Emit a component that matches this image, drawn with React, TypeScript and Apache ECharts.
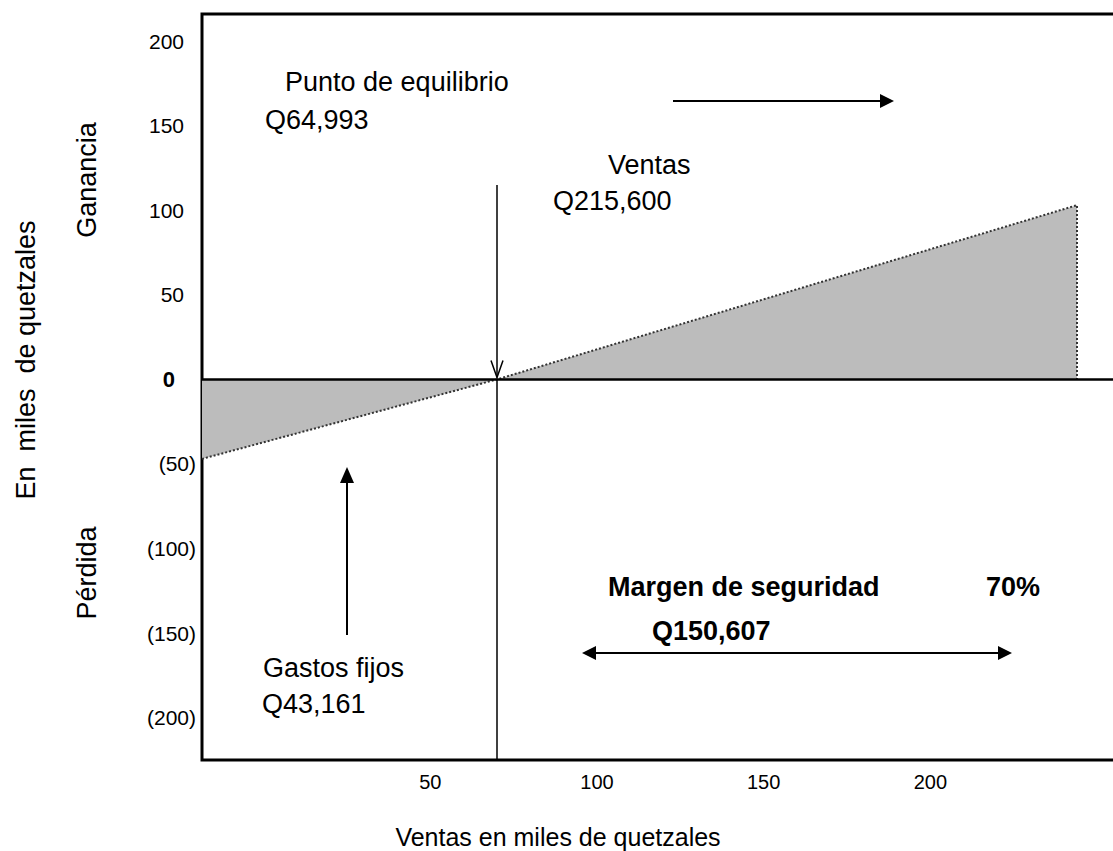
import React, { useEffect, useRef } from "react";
import * as echarts from "echarts";

// Ventas (miles de Q) – tick labels on the x axis
const salesTicks = [50, 100, 150, 200];
// Ganancia / pérdida (miles de Q) – tick labels on the y axis
const resultTicks = [-200, -150, -100, -50, 0, 50, 100, 150, 200];
// Profit/loss line as drawn in the picture (x = ventas, y = resultado)
const profitSales = [-18.5, 70, 244, 244];
const profitResult = [-47, 0, 103, 0];
// Break-even point as drawn
const breakEvenSales = 70;

const FONT = "Liberation Sans, Arial, sans-serif";

export default function App() {
  const ref = useRef<HTMLDivElement>(null);

  useEffect(() => {
    document.body.style.margin = "0";
    const chart = echarts.init(ref.current!, null, { renderer: "svg" });

    const profitData = profitSales.map((x, i) => [x, profitResult[i]]);

    chart.setOption({
      animation: false,
      backgroundColor: "#ffffff",
      grid: {
        left: 202,
        top: 14,
        width: 922,
        height: 746,
        outerBoundsMode: "none",
        containLabel: false,
        show: true,
        borderColor: "#000",
        borderWidth: 3,
      },
      xAxis: {
        type: "value",
        min: -18.5,
        max: 258.1,
        axisLine: { show: false },
        axisTick: { show: false },
        splitLine: { show: false },
        axisLabel: {
          customValues: salesTicks,
          fontSize: 20,
          color: "#000",
          fontFamily: FONT,
          margin: 12,
        },
      },
      yAxis: {
        type: "value",
        min: -225,
        max: 216,
        axisLine: { show: false },
        axisTick: { show: false },
        splitLine: { show: false },
        axisLabel: {
          customValues: resultTicks,
          margin: 4,
          fontFamily: FONT,
          color: "#000",
          formatter: (v: number) =>
            v === 0 ? "{z|0}" : v > 0 ? `{p|${v}}` : `{n|(${-v})}`,
          rich: {
            p: { fontSize: 21, fontFamily: FONT, color: "#000", padding: [0, 14, 0, 0] },
            n: { fontSize: 21, fontFamily: FONT, color: "#000", padding: [0, 2, 0, 0] },
            z: {
              fontSize: 22,
              fontFamily: FONT,
              fontWeight: "bold",
              color: "#000",
              padding: [0, 23, 0, 0],
            },
          },
        },
      },
      series: [
        {
          type: "line",
          data: profitData,
          showSymbol: false,
          silent: true,
          lineStyle: { color: "#333", width: 2, type: "dotted" },
          areaStyle: { color: "#bcbcbc", opacity: 1, origin: 0 },
          markLine: {
            silent: true,
            symbol: "none",
            label: { show: false },
            data: [
              {
                yAxis: 0,
                lineStyle: { color: "#000", width: 2.5, type: "solid" },
              },
              [
                {
                  coord: [breakEvenSales, 0],
                  lineStyle: { color: "#000", width: 1.5, type: "solid" },
                },
                { coord: [breakEvenSales, -225] },
              ],
            ],
          },
        },
      ],
    });

    const [bx, zeroY] = chart.convertToPixel({ gridIndex: 0 }, [breakEvenSales, 0]) as number[];

    const txt = (text: string, x: number, y: number, opts: any = {}) => ({
      type: "text",
      x,
      y,
      rotation: opts.rotation || 0,
      silent: true,
      style: {
        text,
        fontSize: opts.fontSize || 27,
        fontFamily: FONT,
        fontWeight: opts.bold ? "bold" : "normal",
        fill: "#000",
        align: opts.align || "left",
        verticalAlign: "middle",
      },
    });

    const line = (x1: number, y1: number, x2: number, y2: number, w = 2) => ({
      type: "line",
      silent: true,
      shape: { x1, y1, x2, y2 },
      style: { stroke: "#000", lineWidth: w },
    });

    const head = (pts: number[][]) => ({
      type: "polygon",
      silent: true,
      shape: { points: pts },
      style: { fill: "#000" },
    });

    chart.setOption({
      graphic: [
        // texts
        txt("Punto de equilibrio", 285, 82),
        txt("Q64,993", 265, 120),
        txt("Ventas", 608, 165),
        txt("Q215,600", 553, 201),
        txt("Gastos fijos", 263, 668),
        txt("Q43,161", 262, 704),
        txt("Margen de seguridad", 608, 587, { bold: true }),
        txt("70%", 986, 587, { bold: true }),
        txt("Q150,607", 652, 631, { bold: true }),
        txt("Ventas en miles de quetzales", 558, 837, { align: "center", fontSize: 25 }),
        txt("Ganancia", 87, 180, { align: "center", rotation: Math.PI / 2 }),
        txt("Pérdida", 87, 573, { align: "center", rotation: Math.PI / 2 }),
        txt("En  miles  de quetzales", 26, 360, { align: "center", rotation: Math.PI / 2 }),
        // top right arrow
        line(673, 101, 884, 101),
        head([[880, 94], [894, 101], [880, 108]]),
        // double arrow (margen de seguridad)
        line(590, 653, 1004, 653),
        head([[596, 646], [582, 653], [596, 660]]),
        head([[998, 646], [1012, 653], [998, 660]]),
        // up arrow (gastos fijos)
        line(347, 635, 347, 478),
        head([[340, 483], [347, 467], [354, 483]]),
        // break-even arrow
        line(bx, 185, bx, zeroY - 2, 1.5),
        {
          type: "polyline",
          silent: true,
          shape: { points: [[bx - 6, zeroY - 19], [bx, zeroY - 2], [bx + 6, zeroY - 19]] },
          style: { stroke: "#000", lineWidth: 1.5, fill: "none" },
        },
      ],
    });

    return () => chart.dispose();
  }, []);

  return <div ref={ref} style={{ width: 1113, height: 851 }} />;
}
